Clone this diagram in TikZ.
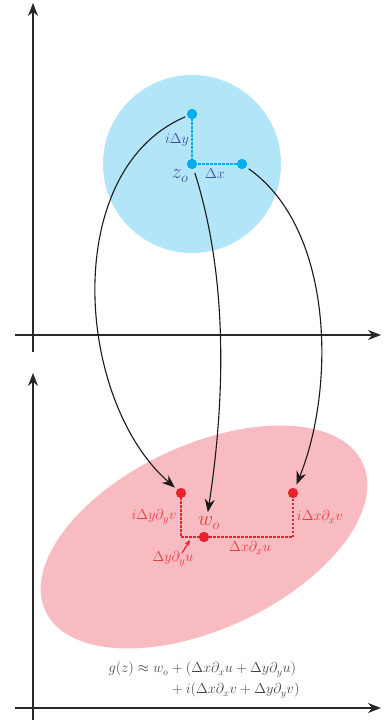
\documentclass[tikz,border=0pt]{standalone}
\usepackage{amsmath}
\usetikzlibrary{arrows.meta}
\definecolor{circfill}{RGB}{179,229,248}
\definecolor{bluedot}{RGB}{0,174,239}
\definecolor{bluelbl}{RGB}{64,80,165}
\definecolor{ellfill}{RGB}{248,187,193}
\definecolor{reddot}{RGB}{232,35,45}
\definecolor{redlbl}{RGB}{232,60,60}
\definecolor{axiscol}{RGB}{40,40,40}
\definecolor{formcol}{RGB}{70,70,70}
\tikzset{
  axisline/.style={draw=axiscol, line width=1.2pt, -{Stealth[length=13pt,width=10pt]}},
  mapcurve/.style={draw=black!90, line width=1.1pt, -{Stealth[length=13pt,width=10pt]}},
  bdot/.style={circle, fill=bluedot, inner sep=0pt, minimum size=10pt},
  rdot/.style={circle, fill=reddot, inner sep=0pt, minimum size=10pt},
  bdash/.style={draw=bluedot, line width=1.2pt, dash pattern=on 2.5pt off 1.5pt},
  rdash/.style={draw=reddot, line width=1.2pt, dash pattern=on 2.5pt off 1.5pt},
  blbl/.style={text=bluelbl, font=\fontsize{15}{17}\selectfont, inner sep=1pt},
  rlbl/.style={text=redlbl, font=\fontsize{15}{17}\selectfont, inner sep=1pt},
  biglbl/.style={font=\fontsize{21}{23}\selectfont, inner sep=1pt},
}
\begin{document}
\begin{tikzpicture}[x=1pt,y=-1pt]
\useasboundingbox (0,0) rectangle (385,720);
% top axes
\coordinate (tyb) at (33,352);
\coordinate (tyt) at (33,3);
\coordinate (txl) at (15,335);
\coordinate (txr) at (381,335);
\draw[axisline] (tyb) -- (tyt);
\draw[axisline] (txl) -- (txr);
% bottom axes
\coordinate (byb) at (33,720);
\coordinate (byt) at (33,373);
\coordinate (bxl) at (15,708);
\coordinate (bxr) at (381,708);
\draw[axisline] (byb) -- (byt);
\draw[axisline] (bxl) -- (bxr);
% circle and ellipse
\coordinate (cc) at (192,164);
\fill[circfill] (cc) circle[radius=89pt];
\coordinate (ec) at (204,537);
\fill[ellfill, rotate around={25:(ec)}] (ec) ellipse[x radius=175pt, y radius=92pt];
% top points
\node[bdot] (z) at (192,164) {};
\node[bdot] (t1) at (192,114) {};
\node[bdot] (r0) at (242,164) {};
\draw[bdash] (t1.center) -- (z.center) -- (r0.center);
\node[bdot] at (z) {};
\node[bdot] at (t1) {};
\node[bdot] at (r0) {};
\node[blbl] (ldy) at (177,140) {$i\Delta y$};
\node[blbl] (ldx) at (215,174) {$\Delta x$};
\node[blbl, biglbl] (lz) at (180,176) {$z_o$};
% bottom points
\coordinate (c1) at (181,537);
\coordinate (c2) at (293,537);
\node[rdot] (r1) at (181,493) {};
\node[rdot] (r2) at (293,493) {};
\node[rdot] (w) at (204,537) {};
\draw[rdash] (r1.center) -- (c1) -- (c2) -- (r2.center);
\node[rdot] at (r1) {};
\node[rdot] at (r2) {};
\node[rdot] at (w) {};
\node[rlbl] (lyv) at (154,517) {$i\Delta y\partial_y v$};
\node[rlbl] (lxv) at (320,517) {$i\Delta x\partial_x v$};
\node[rlbl, biglbl] (lw) at (209,523) {$w_o$};
\node[rlbl] (lxu) at (250,548) {$\Delta x\partial_x u$};
\node[rlbl] (lyu) at (173,559) {$\Delta y\partial_y u$};
\coordinate (atail) at (182,553);
\coordinate (atip) at (190,540);
\draw[draw=reddot, line width=1.2pt, -{Stealth[length=6pt,width=5pt]}] (atail) -- (atip);
% mapping curves
\draw[mapcurve, shorten <=2pt, shorten >=3pt] (t1) .. controls (60,170) and (75,400) .. (r1);
\draw[mapcurve, shorten <=4pt, shorten >=20pt] (z) .. controls (232,290) and (222,420) .. (w);
\draw[mapcurve, shorten <=3pt, shorten >=4pt] (r0) .. controls (335,230) and (335,390) .. (r2);
% formula
\node[text=formcol, font=\fontsize{14.2}{17}\selectfont] (form) at (204,680) {$\begin{aligned} g(z) \approx w_o &+ (\Delta x\partial_x u + \Delta y\partial_y u)\\[1pt] &+ i(\Delta x\partial_x v + \Delta y\partial_y v)\end{aligned}$};
\end{tikzpicture}
\end{document}
